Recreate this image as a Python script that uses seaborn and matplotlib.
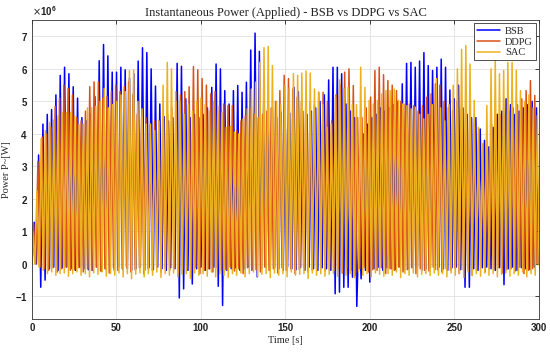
import numpy as np
import pandas as pd
import matplotlib
matplotlib.use("Agg")
import matplotlib.pyplot as plt
import seaborn as sns

# series names and colours (MATLAB default order)
series_names = ["BSB", "DDPG", "SAC"]
series_colors = ["#0000FF", "#D95319", "#EDB120"]

# peak and trough of each oscillation, in units of 1e6 W
bsb_peaks = [1.28, 3.35, 4.3, 4.6, 4.75, 5.2, 5.8, 6.05, 5.85, 5.45, 5.1, 4.5, 4.4, 4.6, 5.15, 6.25, 6.75, 6.4, 5.9, 5.9, 6.05, 5.97, 5.72,
             5.85, 6.24, 6.65, 6.5, 6.0, 5.47, 4.92, 4.53, 4.4, 4.5, 6.17, 6.08, 5.08, 4.5, 4.6, 4.5, 4.6, 4.8, 5.43, 6.15, 6.0, 5.33, 4.92,
             5.33, 5.49, 5.28, 5.59, 6.58, 7.1, 6.54, 5.0, 4.6, 4.8, 4.5, 4.67, 4.15, 4.64, 5.43, 5.3, 4.7, 4.6, 4.7, 4.8, 5.0, 5.2, 5.66,
             6.05, 6.05, 5.85, 4.92, 4.7, 4.5, 1.28, 4.0, 4.3, 4.5, 4.6, 4.8, 4.7, 4.8, 4.9, 5.0, 5.54, 6.17, 6.2, 6.05, 6.24, 6.5, 6.1, 5.95, 6.05,
             6.3, 6.05, 5.35, 5.08, 5.5, 4.8, 4.6, 4.5, 4.5, 4.15, 3.8, 3.6, 4.2, 4.6, 4.7, 5.08, 4.9, 4.6, 4.7, 4.8, 4.9, 5.0, 4.8]
bsb_troughs = [0.0, -0.72, -0.5, -0.15, -0.1, -0.2, -0.12, -0.1, -0.15, -0.2, -0.1, -0.15, -0.18, -0.2, -0.1, -0.22, -0.15, -0.12, -0.2, -0.1, -0.18, -0.15, -0.2,
               -0.15, -0.1, -0.2, -0.12, -0.18, -0.1, -0.15, -0.2, -0.12, -0.15, -1.05, -0.77, -0.2, -0.62, -0.15, -0.1, -0.2, -0.15, -0.1, -0.69, -1.28, -0.2, -0.15,
               -0.12, -0.2, -0.15, -0.1, -0.18, -0.4, -0.15, -0.1, -0.2, -0.12, -0.15, -0.2, -0.1, -0.15, -0.18, -0.12, -0.2, -0.1, -0.15, -0.2, -0.12, -0.15, -0.2,
               -0.92, -0.87, -0.72, -0.72, -0.41, -1.31, -0.46, -0.2, -0.56, -0.15, -0.1, -0.2, -0.12, -0.15, -0.18, -0.1, -0.2, -0.15, -0.12, -0.1, -0.2, -0.15, -0.12, -0.18, -0.1,
               -0.15, -0.2, -0.12, -0.1, -0.18, -0.72, -0.72, -0.15, -0.2, -0.12, -0.1, -0.15, -0.2, -0.12, -0.64, -0.15, -0.1, -0.2, -0.12, -0.15, -0.18, -0.1, 0.0]

ddpg_peaks = [1.23, 3.15, 3.9, 4.0, 4.2, 4.85, 5.1, 5.5, 5.4, 5.2, 4.5, 4.4, 4.7, 5.45, 5.6, 5.6, 5.1, 5.15, 5.3, 5.5, 5.3, 5.45, 5.6,
              5.2, 4.6, 4.5, 4.5, 4.3, 4.4, 4.4, 4.5, 4.6, 4.8, 5.0, 5.2, 5.3, 5.45, 6.07, 5.97, 5.7, 5.5, 5.23, 5.3, 4.87, 4.92, 4.87,
              4.87, 4.1, 4.4, 4.55, 4.8, 4.6, 4.5, 4.6, 4.7, 4.8, 5.0, 5.33, 5.8, 5.7, 5.38, 5.13, 5.0, 5.0, 4.97, 4.9, 5.28, 5.28, 5.0,
              4.4, 5.2, 5.5, 5.9, 6.0, 5.49, 4.5, 4.5, 4.8, 5.13, 5.95, 6.05, 5.82, 5.64, 5.5, 5.33, 5.0, 4.92, 4.92, 4.87, 4.7, 4.87, 5.13, 5.23, 5.54,
              5.5, 5.0, 4.8, 4.7, 5.0, 4.8, 4.7, 4.6, 4.3, 3.8, 3.7, 3.7, 4.3, 4.6, 4.6, 4.6, 4.7, 4.8, 4.9, 5.08, 5.33, 5.64, 5.18]
ddpg_troughs = [0.0, -0.1, -0.15, -0.2, -0.12, -0.25, -0.15, -0.1, -0.2, -0.18, -0.12, -0.25, -0.15, -0.2, -0.1, -0.22, -0.15, -0.28, -0.12, -0.2, -0.15, -0.1, -0.25,
                -0.18, -0.12, -0.3, -0.15, -0.2, -0.1, -0.25, -0.15, -0.2, -0.12, -0.28, -0.18, -0.15, -0.22, -0.1, -0.3, -0.2, -0.15, -0.25, -0.12, -0.2, -0.18, -0.1,
                -0.22, -0.15, -0.3, -0.12, -0.2, -0.18, -0.25, -0.1, -0.2, -0.15, -0.28, -0.12, -0.2, -0.15, -0.3, -0.18, -0.1, -0.25, -0.2, -0.15, -0.12, -0.22, -0.18,
                -0.2, -0.15, -0.28, -0.12, -0.2, -0.35, -0.15, -0.1, -0.25, -0.18, -0.2, -0.12, -0.3, -0.15, -0.2, -0.1, -0.25, -0.18, -0.12, -0.3, -0.15, -0.2, -0.22, -0.1, -0.18,
                -0.25, -0.15, -0.2, -0.12, -0.3, -0.18, -0.15, -0.35, -0.2, -0.1, -0.25, -0.15, -0.2, -0.12, -0.28, -0.18, -0.15, -0.22, -0.1, -0.3, -0.2, -0.15, 0.0]

sac_peaks = [1.0, 2.25, 3.85, 4.1, 4.35, 4.43, 4.55, 4.65, 4.65, 4.65, 4.55, 4.3, 4.3, 4.8, 4.8, 4.85, 5.0, 5.4, 4.8, 4.9, 5.0, 5.2, 5.3, 5.95,
             5.97, 5.0, 4.77, 4.3, 4.3, 4.1, 4.4, 5.5, 6.2, 6.0, 5.3, 5.0, 4.6, 4.9, 4.7, 5.0, 5.1, 4.9, 4.7, 5.0, 4.7, 4.65, 4.2,
             4.23, 4.05, 4.0, 4.46, 4.77, 5.38, 5.59, 6.2, 6.65, 6.69, 6.1, 5.0, 4.9, 5.5, 5.4, 5.85, 5.8, 5.87, 5.93, 5.87, 5.38, 5.28, 4.9, 4.2,
             4.3, 5.13, 5.66, 5.4, 5.43, 4.9, 4.9, 6.05, 5.43, 5.03, 4.92, 5.03, 5.23, 5.33, 5.33, 5.38, 5.03, 4.92, 4.87, 4.77, 4.82, 4.6, 4.46, 4.6, 4.9,
             5.7, 4.8, 4.4, 4.9, 5.5, 6.0, 6.6, 6.72, 6.15, 5.03, 4.2, 3.7, 4.87, 6.0, 6.26, 5.85, 5.95, 6.2, 6.2, 5.95, 5.33, 5.0, 5.2, 4.8, 4.56]
sac_troughs = [0.0, -0.1, -0.2, -0.3, -0.25, -0.35, -0.3, -0.28, -0.38, -0.3, -0.25, -0.35, -0.3, -0.4, -0.28, -0.32, -0.25, -0.38, -0.3, -0.35, -0.28, -0.4, -0.3, -0.46,
               -0.32, -0.28, -0.4, -0.3, -0.35, -0.25, -0.42, -0.3, -0.35, -0.28, -0.4, -0.32, -0.3, -0.45, -0.28, -0.35, -0.3, -0.38, -0.25, -0.4, -0.3, -0.35, -0.42,
               -0.3, -0.35, -0.28, -0.4, -0.3, -0.25, -0.38, -0.32, -0.3, -0.42, -0.28, -0.35, -0.3, -0.4, -0.25, -0.35, -0.32, -0.3, -0.45, -0.28, -0.35, -0.3, -0.38, -0.32,
               -0.3, -0.38, -0.28, -0.35, -0.3, -0.42, -0.25, -0.35, -0.3, -0.4, -0.28, -0.32, -0.38, -0.3, -0.35, -0.25, -0.42, -0.3, -0.35, -0.28, -0.4, -0.32, -0.3, -0.36, -0.28,
               -0.35, -0.3, -0.4, -0.28, -0.35, -0.3, -0.42, -0.25, -0.36, -0.3, -0.38, -0.28, -0.35, -0.3, -0.4, -0.32, -0.28, -0.38, -0.3, -0.35, -0.25, -0.4, -0.3, -0.35, -0.05]

# time of first and last peak [s]
bsb_span = (1.4, 298.5)
ddpg_span = (1.0, 297.5)
sac_span = (0.5, 299.0)

x_ticks = [0, 50, 100, 150, 200, 250, 300]
y_ticks = [-1e6, 0, 1e6, 2e6, 3e6, 4e6, 5e6, 6e6, 7e6]


def build(name, peaks, troughs, span):
    tp = np.linspace(span[0], span[1], len(peaks))
    step = tp[1] - tp[0]
    tt = np.minimum(tp + step / 2, 300)
    t = np.concatenate([[0.0], np.column_stack([tp, tt]).ravel()])
    p = np.concatenate([[0.0], np.column_stack([peaks, troughs]).ravel()]) * 1e6
    return pd.DataFrame({"Time": t, "Power": p, "Method": name})


df = pd.concat([
    build("BSB", bsb_peaks, bsb_troughs, bsb_span),
    build("DDPG", ddpg_peaks, ddpg_troughs, ddpg_span),
    build("SAC", sac_peaks, sac_troughs, sac_span),
], ignore_index=True)

sns.set_style("white")
plt.rcParams["font.family"] = ["Liberation Sans", "DejaVu Sans"]

fig = plt.figure(figsize=(5.5, 3.53), dpi=100)
ax = fig.add_axes([0.058, 0.096, 0.922, 0.847])

sns.lineplot(data=df, x="Time", y="Power", hue="Method", hue_order=series_names,
             palette=dict(zip(series_names, series_colors)), estimator=None,
             sort=False, linewidth=1.1, ax=ax)

ax.set_xlim(0, 300)
ax.set_ylim(-1.7e6, 7.5e6)
ax.set_xticks(x_ticks)
ax.set_yticks(y_ticks)
ax.ticklabel_format(axis="y", style="sci", scilimits=(6, 6), useMathText=True)
ax.yaxis.get_offset_text().set_fontsize(7)
ax.yaxis.get_offset_text().set_fontweight("bold")

ax.grid(True, color="#e0e0e0", linewidth=0.6)
ax.set_axisbelow(True)
for s in ax.spines.values():
    s.set_color("#333333")
    s.set_linewidth(0.6)
ax.tick_params(direction="in", top=True, right=True, length=3, width=0.6,
               labelsize=7, colors="#222222", pad=3)
for lab in ax.get_xticklabels() + ax.get_yticklabels():
    lab.set_fontweight("bold")

serif = ["Liberation Serif", "DejaVu Serif"]
ax.set_title("Instantaneous Power (Applied) - BSB vs DDPG vs SAC", family=serif,
             fontsize=9, pad=3, color="#222222")
ax.set_xlabel("Time [s]", family=serif, fontsize=7.5, labelpad=2)
ax.set_ylabel("Power P~[W]", family=serif, fontsize=7.5, labelpad=3)

sns.move_legend(ax, "upper right", title=None, frameon=True, fancybox=False,
                edgecolor="#333333", framealpha=1, borderpad=0.3, labelspacing=0.15,
                handlelength=2.2, handletextpad=0.5, borderaxespad=0.3,
                prop={"family": serif, "size": 7.5})
ax.get_legend().get_frame().set_linewidth(0.6)

fig.savefig("out.png", dpi=100)
